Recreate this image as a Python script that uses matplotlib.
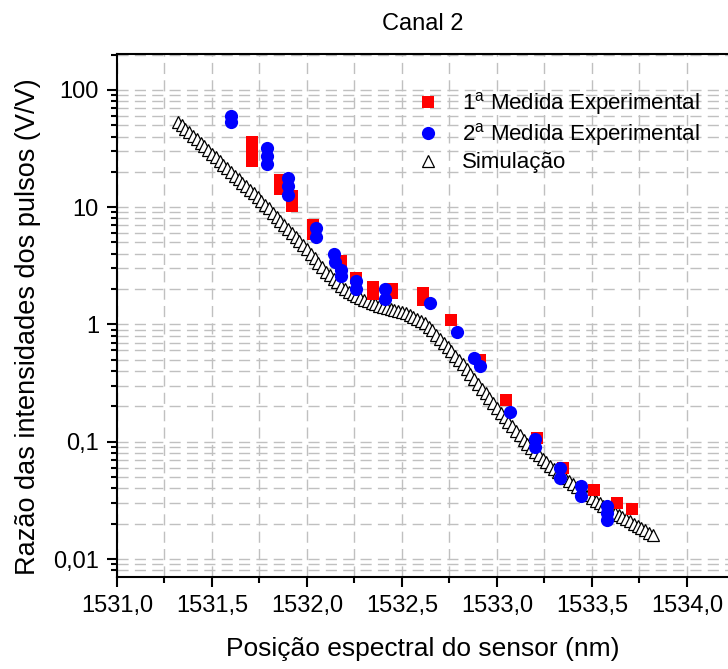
import numpy as np
import matplotlib
matplotlib.use("Agg")
import matplotlib.pyplot as plt
from matplotlib.ticker import MultipleLocator, LogLocator, FuncFormatter, NullFormatter

plt.rcParams['font.family'] = ['Liberation Sans', 'DejaVu Sans']
plt.rcParams['mathtext.fontset'] = 'custom'
plt.rcParams['mathtext.rm'] = 'Liberation Sans'
plt.rcParams['mathtext.default'] = 'regular'

# 1a medida experimental (red squares)
med1_x = [1531.71, 1531.71, 1531.71, 1531.86, 1531.86, 1531.92, 1531.92,
          1532.03, 1532.03, 1532.18, 1532.26, 1532.35, 1532.35, 1532.45, 1532.45,
          1532.61, 1532.61, 1532.76, 1532.91, 1533.05, 1533.21, 1533.35,
          1533.51, 1533.63, 1533.71]
med1_y = [35.9, 30.1, 24.8, 16.9, 14.2, 12.5, 10.2,
          6.98, 5.85, 3.48, 2.49, 2.07, 1.80, 1.99, 1.84,
          1.87, 1.62, 1.09, 0.498, 0.229, 0.108, 0.0598,
          0.0385, 0.0301, 0.0267]

# 2a medida experimental (blue circles)
med2_x = [1531.60, 1531.60, 1531.79, 1531.79, 1531.79, 1531.90, 1531.90, 1531.90,
          1532.05, 1532.05, 1532.14, 1532.15, 1532.18, 1532.18, 1532.26, 1532.26,
          1532.41, 1532.41, 1532.65, 1532.79, 1532.88, 1532.91, 1533.07,
          1533.20, 1533.20, 1533.33, 1533.33, 1533.44, 1533.44,
          1533.58, 1533.58, 1533.58]
med2_y = [59.3, 52.7, 31.7, 27.3, 23.4, 17.7, 15.1, 12.7,
          6.58, 5.57, 3.99, 3.41, 2.91, 2.59, 2.33, 2.01,
          2.01, 1.65, 1.51, 0.863, 0.518, 0.443, 0.178,
          0.106, 0.0904, 0.0598, 0.0492, 0.042, 0.0345,
          0.0284, 0.0247, 0.0215]

# simulacao: one value every 0.02 nm starting at 1531.32
sim_start = 1531.32
sim_step = 0.02
sim_y = [53.2, 49.8, 46.6, 43.6, 40.7, 37.9, 35.3, 32.9, 30.6, 28.5,
         26.5, 24.7, 23.0, 21.4, 20.0, 18.6, 17.4, 16.2, 15.1, 14.1,
         13.1, 12.2, 11.3, 10.5, 9.77, 8.99, 8.28, 7.62, 7.01, 6.46,
         5.97, 5.52, 5.11, 4.72, 4.37, 4.00, 3.66, 3.36, 3.08, 2.82,
         2.62, 2.44, 2.28, 2.13, 2.00, 1.90, 1.81, 1.74, 1.67, 1.62,
         1.57, 1.53, 1.49, 1.45, 1.41, 1.39, 1.36, 1.34, 1.31, 1.28,
         1.25, 1.21, 1.16, 1.12, 1.08, 1.02, 0.959, 0.891, 0.818, 0.750,
         0.692, 0.638, 0.589, 0.543, 0.501, 0.459, 0.419, 0.380, 0.345, 0.313,
         0.284, 0.258, 0.234, 0.212, 0.193, 0.176, 0.161, 0.148, 0.136, 0.124,
         0.114, 0.104, 0.0959, 0.0887, 0.0822, 0.0766, 0.0714, 0.0668, 0.0627, 0.0589,
         0.0553, 0.0521, 0.0491, 0.0462, 0.0437, 0.0412, 0.0389, 0.0368, 0.0349, 0.0331,
         0.0315, 0.0300, 0.0286, 0.0273, 0.0261, 0.0249, 0.0239, 0.0229, 0.0219, 0.0209,
         0.0200, 0.0192, 0.0184, 0.0176, 0.0168, 0.0161]
sim_x = sim_start + sim_step * np.arange(len(sim_y))

fig = plt.figure(figsize=(7.28, 6.69), dpi=100)
ax = fig.add_axes([117 / 728, 92 / 669, 611 / 728, 523 / 669])

ax.plot(sim_x, sim_y, linestyle='none', marker='^', ms=9, mfc='white',
        mec='black', mew=0.9, label='Simulação', zorder=3)
ax.plot(med1_x, med1_y, linestyle='none', marker='s', ms=8.5, color='#ff0000',
        mew=0, label='1$^a$ Medida Experimental', zorder=4)
ax.plot(med2_x, med2_y, linestyle='none', marker='o', ms=9.5, color='#0000ff',
        mew=0, label='2$^a$ Medida Experimental', zorder=5)

ax.set_yscale('log')
ax.set_xlim(1531.0, 1534.216)
ax.set_ylim(0.00703, 202)

ax.xaxis.set_major_locator(MultipleLocator(0.5))
ax.xaxis.set_minor_locator(MultipleLocator(0.25))
ax.xaxis.set_major_formatter(FuncFormatter(lambda v, p: f"{v:.1f}".replace('.', ',')))
ax.yaxis.set_major_locator(LogLocator(base=10))
ax.yaxis.set_minor_locator(LogLocator(base=10, subs=np.arange(2, 10)))
ax.yaxis.set_minor_formatter(NullFormatter())


def yfmt(v, p):
    if v >= 1:
        return f"{int(round(v))}"
    return f"{v:g}".replace('.', ',')


ax.yaxis.set_major_formatter(FuncFormatter(yfmt))

ax.grid(True, which='both', color='#c0c0c0', linestyle=(0, (8, 4.5)), lw=1.0)
ax.set_axisbelow(True)

for s in ['left', 'bottom', 'top']:
    ax.spines[s].set_linewidth(1.5)
ax.spines['right'].set_visible(False)

ax.tick_params(axis='both', which='major', direction='out', length=7, width=1.5,
               labelsize=17, pad=6)
ax.tick_params(axis='both', which='minor', direction='out', length=4, width=1.5)
ax.tick_params(axis='x', which='both', top=False)

ax.set_xlabel('Posição espectral do sensor (nm)', fontsize=19)
ax.set_ylabel('Razão das intensidades dos pulsos (V/V)', fontsize=19.5)
ax.xaxis.set_label_coords(0.5, -0.115)
ax.yaxis.set_label_coords(-0.125, 0.478)
ax.set_title('Canal 2', fontsize=17, pad=17)

h, l = ax.get_legend_handles_labels()
order = [1, 2, 0]
leg = ax.legend([h[i] for i in order], [l[i] for i in order], loc='center left',
                bbox_to_anchor=(0.449, 0.851), frameon=False, fontsize=16,
                handletextpad=0.8, labelspacing=0.18, handlelength=1.5)

fig.savefig('out.png', dpi=100)
